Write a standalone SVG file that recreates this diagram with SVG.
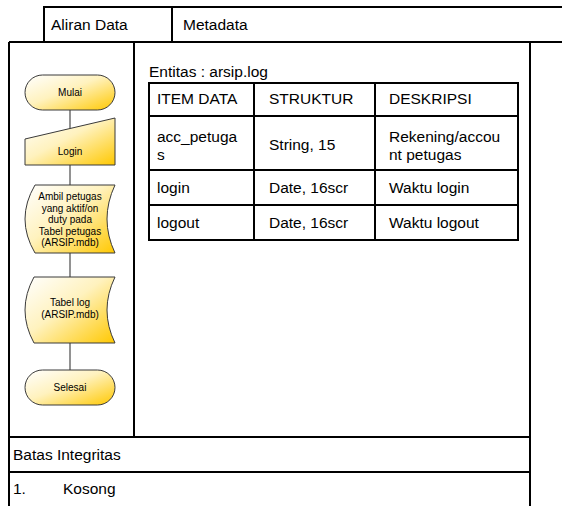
<svg xmlns="http://www.w3.org/2000/svg" width="562" height="506" viewBox="0 0 562 506">
  <defs>
    <linearGradient id="gold" x1="0" y1="0" x2="1" y2="1">
      <stop offset="0" stop-color="#FFFFFF"/>
      <stop offset="0.45" stop-color="#FFF2BE"/>
      <stop offset="1" stop-color="#FFC800"/>
    </linearGradient>
  </defs>
  <style>
    .frame { fill: none; stroke: #000; stroke-width: 2; }
    .txt { font-family: "Liberation Sans", Arial, sans-serif; font-size: 15.5px; fill: #000; }
    .fc { fill: url(#gold); stroke: #3a3a3a; stroke-width: 1; }
    .fct { font-family: "Liberation Sans", Arial, sans-serif; font-size: 10px; fill: #000; text-anchor: middle; }
    .conn { stroke: #6e6e6e; stroke-width: 1.5; fill: none; }
  </style>
  <rect width="562" height="506" fill="#fff"/>

  <!-- header tabs -->
  <g id="header">
    <path class="frame" d="M44,42 V7 H562 M172,7 V42 M9,42 H562"/>
    <text class="txt" x="51" y="30">Aliran Data</text>
    <text class="txt" x="183" y="30">Metadata</text>
  </g>

  <!-- main frame -->
  <g id="frame">
    <path class="frame" d="M9,42 V506 M530,42 V506 M134,42 V437 M9,437 H530 M9,472 H530"/>
    <text class="txt" x="13" y="460">Batas Integritas</text>
    <text class="txt" x="13" y="494">1.</text>
    <text class="txt" x="63" y="494">Kosong</text>
  </g>

  <!-- connectors of the flowchart -->
  <g id="connectors">
    <line class="conn" x1="70" y1="110" x2="70" y2="128.5"/>
    <line class="conn" x1="70" y1="165" x2="70" y2="185"/>
    <line class="conn" x1="70" y1="253" x2="70" y2="277"/>
    <line class="conn" x1="70" y1="343" x2="70" y2="370"/>
  </g>

  <g id="mulai">
    <rect class="fc" x="25" y="75" width="90" height="35" rx="17.5" ry="17.5"/>
    <text class="fct" x="70" y="96">Mulai</text>
  </g>

  <g id="login">
    <path class="fc" d="M25,139 L115,118 L115,165 L25,165 Z"/>
    <text class="fct" x="70" y="155">Login</text>
  </g>

  <g id="ambil-petugas">
    <path class="fc" d="M35,185 L115,185 Q99,219 115,253 L35,253 Q15,219 35,185 Z"/>
    <text class="fct" x="70" y="200">Ambil petugas</text>
    <text class="fct" x="70" y="211.5">yang aktif/on</text>
    <text class="fct" x="70" y="223">duty pada</text>
    <text class="fct" x="70" y="234.5">Tabel petugas</text>
    <text class="fct" x="70" y="246">(ARSIP.mdb)</text>
  </g>

  <g id="tabel-log">
    <path class="fc" d="M34,277 L115,277 Q99,310 115,343 L34,343 Q16,310 34,277 Z"/>
    <text class="fct" x="70" y="306">Tabel log</text>
    <text class="fct" x="70" y="318">(ARSIP.mdb)</text>
  </g>

  <g id="selesai">
    <rect class="fc" x="25" y="370" width="90" height="35" rx="17.5" ry="17.5"/>
    <text class="fct" x="70" y="391">Selesai</text>
  </g>

  <!-- entity table -->
  <g id="entitas">
    <text class="txt" x="149" y="77">Entitas : arsip.log</text>
    <path class="frame" d="M149,83 H518 V240 H149 Z M254,83 V240 M375,83 V240 M149,116 H518 M149,170 H518 M149,205 H518"/>
    <text class="txt" x="157" y="104">ITEM DATA</text>
    <text class="txt" x="269" y="104">STRUKTUR</text>
    <text class="txt" x="389" y="104">DESKRIPSI</text>
    <text class="txt" x="157" y="142">acc_petuga</text>
    <text class="txt" x="157" y="160">s</text>
    <text class="txt" x="269" y="150">String, 15</text>
    <text class="txt" x="389" y="142">Rekening/accou</text>
    <text class="txt" x="389" y="160">nt petugas</text>
    <text class="txt" x="157" y="193">login</text>
    <text class="txt" x="269" y="193">Date, 16scr</text>
    <text class="txt" x="389" y="193">Waktu login</text>
    <text class="txt" x="157" y="228">logout</text>
    <text class="txt" x="269" y="228">Date, 16scr</text>
    <text class="txt" x="389" y="228">Waktu logout</text>
  </g>
</svg>
